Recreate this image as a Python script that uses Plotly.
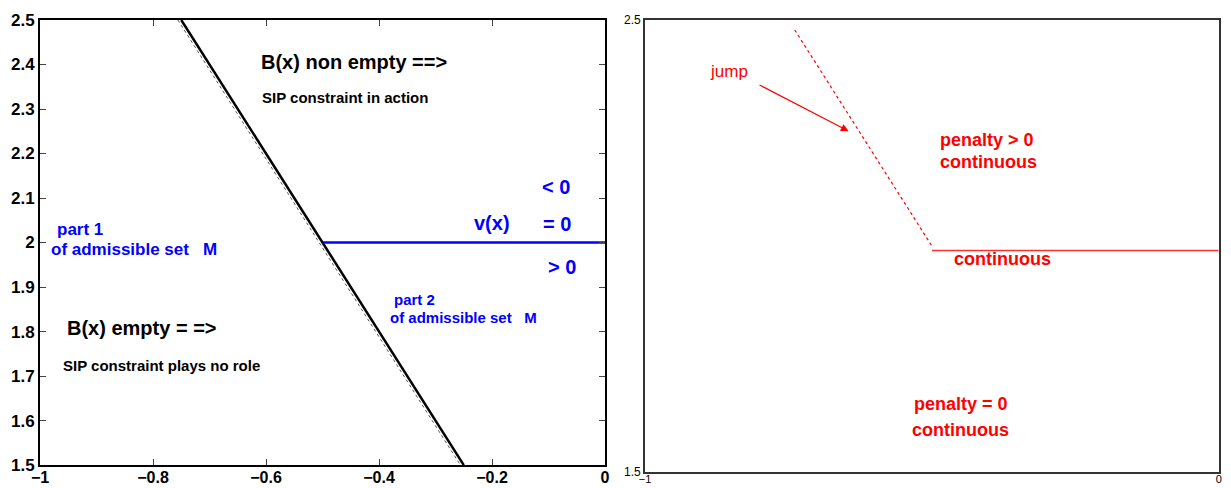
import plotly.graph_objects as go

# ---- data ----
boundary_x = [-0.75, -0.25]
boundary_y = [2.5, 1.5]
boundary_dot_x = [-0.756, -0.256]
boundary_dot_y = [2.5, 1.5]
vx_x = [-0.5, 0.0]
vx_y = [2.0, 2.0]

jump_x = [-0.739, -0.5]
jump_y = [2.478, 2.0]
cont_x = [-0.5, 0.0]
cont_y = [1.99, 1.99]

left_yticks = [1.5, 1.6, 1.7, 1.8, 1.9, 2.0, 2.1, 2.2, 2.3, 2.4, 2.5]
left_xticks = [-1, -0.8, -0.6, -0.4, -0.2, 0]
right_xticks = [-1, 0]
right_yticks = [1.5, 2.5]

FONT = "Liberation Sans, Arial, sans-serif"
BLUE = "#0000ff"
RED = "#ff0000"

fig = go.Figure()

fig.add_trace(go.Scatter(x=boundary_dot_x, y=boundary_dot_y, mode="lines",
                         line=dict(color="#555555", width=1, dash="dot"),
                         xaxis="x", yaxis="y", hoverinfo="skip"))
fig.add_trace(go.Scatter(x=boundary_x, y=boundary_y, mode="lines",
                         line=dict(color="black", width=2.5),
                         xaxis="x", yaxis="y", hoverinfo="skip"))
fig.add_trace(go.Scatter(x=vx_x, y=vx_y, mode="lines",
                         line=dict(color=BLUE, width=2.5),
                         xaxis="x", yaxis="y", hoverinfo="skip"))

fig.add_trace(go.Scatter(x=jump_x, y=jump_y, mode="lines",
                         line=dict(color=RED, width=1.2, dash="dot"),
                         xaxis="x2", yaxis="y2", hoverinfo="skip"))
fig.add_trace(go.Scatter(x=cont_x, y=cont_y, mode="lines",
                         line=dict(color="#ff3030", width=1.5),
                         xaxis="x2", yaxis="y2", hoverinfo="skip"))

def ann(x, y, text, size, color, bold=True, ref="", xanchor="left"):
    t = f"<b>{text}</b>" if bold else text
    fig.add_annotation(x=x, y=y, xref="x" + ref, yref="y" + ref, text=t,
                       showarrow=False, xanchor=xanchor, yanchor="middle",
                       font=dict(family=FONT, size=size, color=color))

# left panel texts
ann(-0.613, 2.405, "B(x) non empty ==>", 20, "black")
ann(-0.611, 2.326, "SIP constraint in action", 15, "black")
ann(-0.115, 2.125, "&lt; 0", 20, BLUE)
ann(-0.235, 2.045, "v(x)", 20, BLUE)
ann(-0.113, 2.042, "= 0", 20, BLUE)
ann(-0.105, 1.945, "&gt; 0", 20, BLUE)
ann(-0.973, 2.03, "part 1", 17, BLUE)
ann(-0.984, 1.985, "of admissible set &nbsp; M", 17, BLUE)
ann(-0.377, 1.873, "part 2", 15, BLUE)
ann(-0.384, 1.832, "of admissible set &nbsp; M", 15, BLUE)
ann(-0.955, 1.807, "B(x) empty = =>", 20, "black")
ann(-0.962, 1.723, "SIP constraint plays no role", 15, "black")

# right panel texts
ann(-0.891, 2.385, "jump", 17, RED, bold=False, ref="2")
ann(-0.489, 2.235, "penalty &gt; 0", 18, RED, ref="2")
ann(-0.489, 2.186, "continuous", 18, RED, ref="2")
ann(-0.465, 1.971, "continuous", 18, RED, ref="2")
ann(-0.535, 1.65, "penalty = 0", 18, RED, ref="2")
ann(-0.538, 1.593, "continuous", 18, RED, ref="2")

fig.add_annotation(x=-0.645, y=2.254, ax=-0.803, ay=2.358,
                   xref="x2", yref="y2", axref="x2", ayref="y2",
                   text="", showarrow=True, arrowhead=2, arrowsize=1.3,
                   arrowwidth=1.2, arrowcolor=RED)

common_axis = dict(showgrid=False, zeroline=False, showline=True, mirror="ticks",
                   linecolor="black", ticks="inside", automargin=False)

fig.update_layout(
    width=1231, height=488,
    margin=dict(l=0, r=0, t=0, b=0, autoexpand=False),
    paper_bgcolor="white", plot_bgcolor="white",
    showlegend=False,
    xaxis=dict(domain=[0.0325, 0.4915], range=[-1, 0], tickvals=left_xticks,
               ticklen=6, linewidth=2, tickwidth=1, ticklabelstandoff=-3,
               tickfont=dict(family=FONT, size=16, color="black", weight="bold"),
               anchor="y", **common_axis),
    yaxis=dict(domain=[0.047, 0.959], range=[1.5, 2.5], tickvals=left_yticks,
               ticklen=6, linewidth=2, tickwidth=1,
               tickfont=dict(family=FONT, size=17, color="black", weight="bold"),
               anchor="x", **common_axis),
    xaxis2=dict(domain=[0.524, 0.990], range=[-1, 0], tickvals=right_xticks,
                ticklen=0, linewidth=2, linecolor="#333333", automargin=False,
                ticklabelstandoff=-4,
                tickfont=dict(family=FONT, size=11, color="black"),
                anchor="y2", showgrid=False, zeroline=False, showline=True,
                mirror=True, ticks=""),
    yaxis2=dict(domain=[0.0328, 0.959], range=[1.5, 2.5], tickvals=right_yticks,
                ticklen=0, linewidth=2, linecolor="#333333", automargin=False,
                tickfont=dict(family=FONT, size=12, color="black"),
                anchor="x2", showgrid=False, zeroline=False, showline=True,
                mirror=True, ticks=""),
)

fig.write_html("out.html")
